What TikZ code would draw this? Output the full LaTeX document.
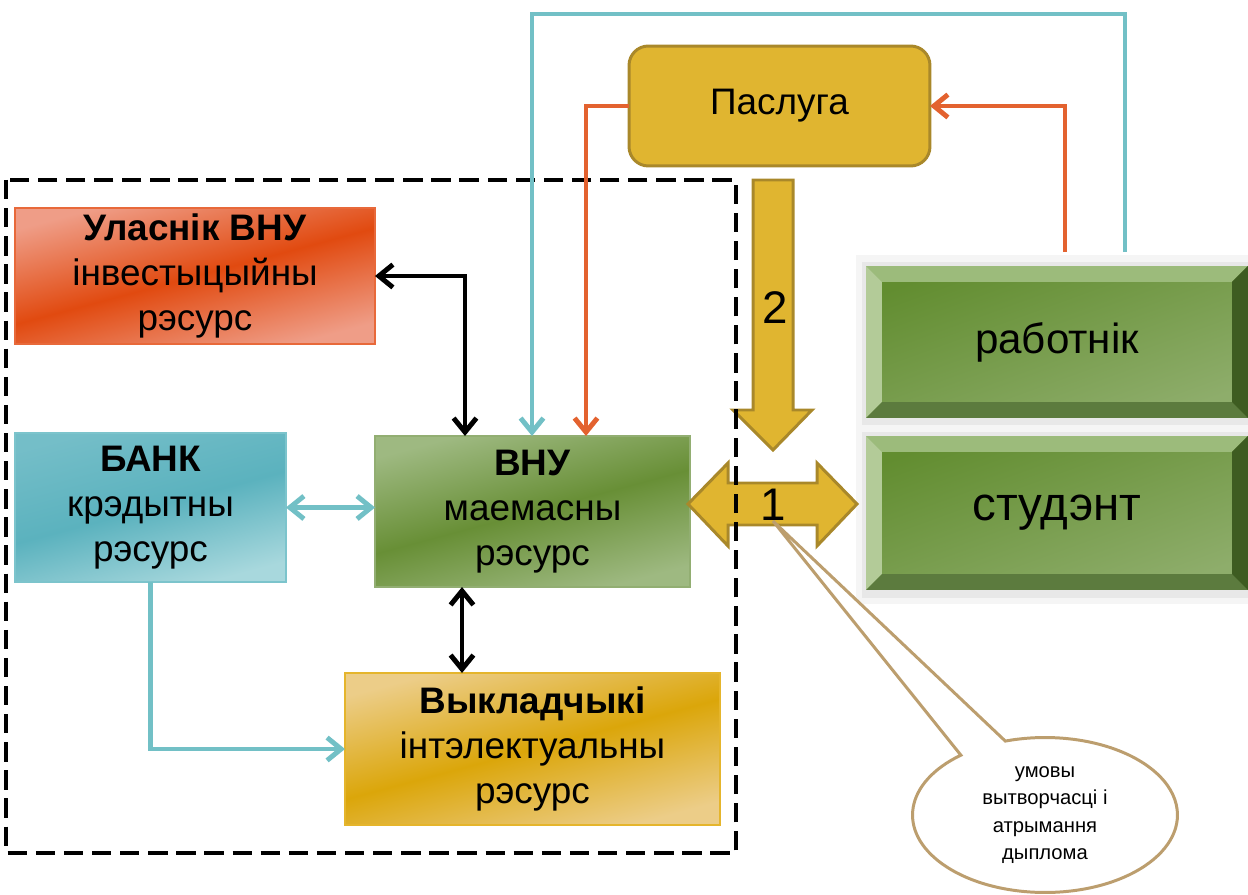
\documentclass[tikz,border=0pt]{standalone}
\usepackage{fontspec}
\setmainfont{Liberation Sans}
\usetikzlibrary{arrows.meta,shapes.callouts,backgrounds}

\definecolor{ownerdark}{HTML}{E14A10}
\definecolor{ownerlight}{HTML}{EF9D87}
\definecolor{ownerline}{HTML}{E8693A}
\definecolor{bankdark}{HTML}{5BB2BE}
\definecolor{banklight}{HTML}{A8D8DD}
\definecolor{bankline}{HTML}{7CC4CC}
\definecolor{vnudark}{HTML}{688F36}
\definecolor{vnulight}{HTML}{9EB981}
\definecolor{vnuline}{HTML}{92AE72}
\definecolor{lectdark}{HTML}{DBA60A}
\definecolor{lectlight}{HTML}{ECCD88}
\definecolor{lectline}{HTML}{E5B52C}
\definecolor{svcfill}{HTML}{E0B530}
\definecolor{svcline}{HTML}{A9882A}
\definecolor{bvdark}{HTML}{628D30}
\definecolor{bvpale}{HTML}{8EAD6B}
\definecolor{bvtopc}{HTML}{9CBB7B}
\definecolor{bvleftc}{HTML}{B3CB98}
\definecolor{bvbotc}{HTML}{5C7B3E}
\definecolor{bvrightc}{HTML}{3E5C21}
\definecolor{linkteal}{HTML}{72C0C6}
\definecolor{linkorange}{HTML}{E3622F}
\definecolor{bubble}{HTML}{BC9E6E}

\begin{document}
\begin{tikzpicture}[x=0.02cm, y=-0.02cm, >={Straight Barb[length=8pt,width=13pt]}]
	\tikzstyle{res} = [rectangle, inner sep=0pt, outer sep=0pt, align=center, line width=0.7pt, font={\fontsize{21}{25.5}\selectfont}];
	\tikzstyle{bevel} = [rectangle, inner sep=0pt, outer sep=0pt, minimum width=7.64cm, top color=bvdark, bottom color=bvpale, shading angle=20,
		path picture={
			\coordinate (nw) at (path picture bounding box.north west);
			\coordinate (ne) at (path picture bounding box.north east);
			\coordinate (sw) at (path picture bounding box.south west);
			\coordinate (se) at (path picture bounding box.south east);
			\fill[bvtopc] (nw) -- (ne) -- ([shift={(-9pt,-9pt)}]ne) -- ([shift={(9pt,-9pt)}]nw) -- cycle;
			\fill[bvleftc] (nw) -- (sw) -- ([shift={(9pt,9pt)}]sw) -- ([shift={(9pt,-9pt)}]nw) -- cycle;
			\fill[bvbotc] (sw) -- (se) -- ([shift={(-9pt,9pt)}]se) -- ([shift={(9pt,9pt)}]sw) -- cycle;
			\fill[bvrightc] (ne) -- (se) -- ([shift={(-9pt,9pt)}]se) -- ([shift={(-9pt,-9pt)}]ne) -- cycle;
		}];
	\tikzstyle{blk} = [<->, line width=2.8pt, black];
	\tikzstyle{tl} = [line width=2.8pt, color=linkteal];
	\tikzstyle{orl} = [line width=2.8pt, color=linkorange];
	\tikzstyle{blockarr} = [fill=svcfill, draw=svcline, line width=1.7pt];
	\tikzstyle{num} = [inner sep=0pt, font={\fontsize{26}{26}\selectfont}];

	\useasboundingbox (0,0) rectangle (1248,895);

	% resources of the university
	\node[res, minimum width=7.2cm, minimum height=2.72cm, draw=ownerline, top color=ownerlight, bottom color=ownerlight, middle color=ownerdark, shading angle=15] (owner) at (195,276) {\textbf{Уласнік ВНУ}\\інвестыцыйны\\рэсурс};
	\node[res, minimum width=5.42cm, minimum height=2.98cm, draw=bankline, top color=bankdark!85!white, bottom color=banklight, middle color=bankdark, shading angle=15] (bank) at (150.5,507.5) {\textbf{БАНК}\\крэдытны\\рэсурс};
	\node[res, minimum width=6.3cm, minimum height=3.02cm, draw=vnuline, top color=vnulight, bottom color=vnulight, middle color=vnudark, shading angle=15] (vnu) at (532.5,511.5) {\textbf{ВНУ}\\маемасны\\рэсурс};
	\node[res, minimum width=7.5cm, minimum height=3.04cm, draw=lectline, top color=lectlight, bottom color=lectlight, middle color=lectdark, shading angle=15] (lect) at (532.5,749) {\textbf{Выкладчыкі}\\інтэлектуальны\\рэсурс};

	% service and the outside parties
	\node[res, minimum width=6.02cm, minimum height=2.4cm, fill=svcfill, draw=svcline, line width=1.7pt, rounded corners=11pt] (service) at (779.5,106) {Паслуга};
	\node[bevel, minimum height=3.04cm, font={\fontsize{24}{24}\selectfont}] (worker) at (1057,342) {работнік};
	\node[bevel, minimum height=3.08cm, font={\fontsize{27}{27}\selectfont}] (student) at (1057,513) {студэнт};
	\begin{scope}[on background layer]
		\foreach \n in {worker,student} {
			\fill[black!4] ([shift={(-6pt,6pt)}]\n.north west) rectangle ([shift={(5pt,-8pt)}]\n.south east);
			\fill[black!9] ([shift={(-2.5pt,2.5pt)}]\n.north west) rectangle ([shift={(2.5pt,-4.5pt)}]\n.south east);
		}
	\end{scope}

	% block arrows
	\draw[blockarr] (753,180) -- (793,180) -- (793,410) -- (812,410) -- (773,450) -- (733,410) -- (753,410) -- cycle;
	\draw[blockarr] (688,504) -- (728,463) -- (728,483) -- (817,483) -- (817,463) -- (857,504) -- (817,546) -- (817,525) -- (728,525) -- (728,546) -- cycle;
	\node[num] (two) at (775,308) {2};
	\node[num] (one) at (773,505) {1};

	\node[ellipse callout, draw=bubble, line width=1.7pt, fill=white, minimum width=5.3cm, minimum height=3.1cm, inner sep=0pt,
		callout absolute pointer={(one.south)}, callout pointer arc=22, align=center, font={\fontsize{11.5}{15.5}\selectfont}] (cond) at (1045,815) {умовы\\вытворчасці і\\атрымання\\дыплома};

	\draw[line width=2.6pt, dash pattern=on 11pt off 5pt] (6,180) rectangle (736,853);

	% links
	\draw[blk] (owner.east) -| (vnu.north -| 465,0);
	\draw[blk] (vnu.south -| 462,0) -- (lect.north -| 462,0);
	\draw[tl, <->] (bank.east) -- (vnu.west |- bank.east);
	\draw[tl, ->] (bank.south) |- (lect.west);
	\coordinate (turn) at (532,14);
	\draw[tl, ->, shorten <=0.28cm] (worker.north -| 1125,0) |- (turn) -- (vnu.north -| turn);
	\draw[orl, ->, shorten <=0.28cm] (worker.north -| 1065,0) |- (service.east);
	\draw[orl, ->] (service.west) -| (vnu.north -| 586,0);
\end{tikzpicture}
\end{document}
